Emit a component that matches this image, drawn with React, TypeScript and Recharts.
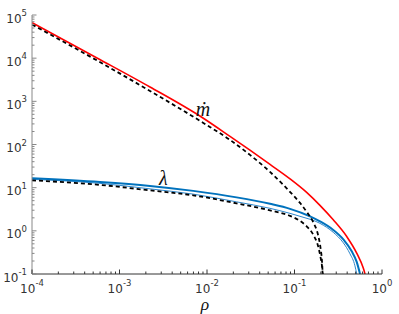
import { Line, LineChart, ReferenceDot, XAxis, YAxis } from "recharts";

// mass flux (red) and its reference (black dashed)
const rhoMdot = [1e-4, 5.53e-4, 2.23e-3, 9.08e-3, 0.01832, 0.03097, 0.0525, 0.0889, 0.1377, 0.1954, 0.2773, 0.3954, 0.514, 0.611, 0.64];
const mdot = [66400, 10120, 2150, 406, 154, 73.8, 34.6, 16.0, 7.78, 3.89, 1.8, 0.738, 0.305, 0.137, 0.1];

const rhoMdotRef = [1e-4, 5.53e-4, 2.23e-3, 9.08e-3, 0.01832, 0.03097, 0.0525, 0.0745, 0.0968, 0.1156, 0.1377, 0.1641, 0.1858, 0.199, 0.206, 0.21];
const mdotRef = [60300, 8850, 1740, 316, 128, 57.4, 23.2, 11.6, 6.64, 4.45, 2.75, 1.57, 0.807, 0.383, 0.202, 0.1];

// lambda (thick blue), thin variant, and reference (black dashed)
const rhoLambda = [1e-4, 5.98e-4, 2.23e-3, 6.97e-3, 0.0218, 0.0525, 0.0889, 0.1503, 0.1954, 0.2773, 0.3614, 0.451, 0.514, 0.561];
const lambda = [16.6, 13.6, 11.0, 8.43, 5.96, 4.22, 3.23, 2.17, 1.66, 1.05, 0.635, 0.335, 0.191, 0.1];

const rhoLambdaThin = [1e-4, 5.98e-4, 2.23e-3, 6.97e-3, 0.0218, 0.0525, 0.0889, 0.1156, 0.1954, 0.2773, 0.3614, 0.4305, 0.4906, 0.514];
const lambdaThin = [15.6, 12.6, 9.38, 7.08, 4.69, 3.32, 2.54, 2.17, 1.49, 0.923, 0.527, 0.294, 0.155, 0.1];

const rhoLambdaRef = [1e-4, 5.98e-4, 2.23e-3, 6.97e-3, 0.0218, 0.0525, 0.0889, 0.1156, 0.1377, 0.1641, 0.187, 0.199, 0.206, 0.21];
const lambdaRef = [14.8, 11.6, 8.66, 6.64, 4.33, 2.98, 2.22, 1.7, 1.27, 0.807, 0.427, 0.237, 0.155, 0.1];

const xMajor = [1e-4, 1e-3, 1e-2, 1e-1, 1];
const yMajor = [1e-1, 1, 10, 100, 1e3, 1e4, 1e5];
const minorSteps = [2, 3, 4, 5, 6, 7, 8, 9];

const withMinor = (majors: number[]) => {
  const out: number[] = [];
  majors.forEach((m, i) => {
    out.push(m);
    if (i < majors.length - 1) minorSteps.forEach((s) => out.push(m * s));
  });
  return out;
};
const xTicks = withMinor(xMajor);
const yTicks = withMinor(yMajor);

const pts = (xs: number[], ys: number[]) => xs.map((rho, i) => ({ rho, v: ys[i] }));

const textColor = "#333";
const tickFont = "DejaVu Sans";
const mathFont = "Liberation Serif";

function makeTick(side: "bottom" | "top" | "left" | "right", color: string) {
  return (props: any) => {
    const { x, y, payload } = props;
    const e = Math.log10(payload.value);
    const exp = Math.round(e);
    const major = Math.abs(e - exp) < 1e-6;
    const len = major ? 4.5 : 2.5;
    let line = null;
    let label = null;
    if (side === "bottom") {
      line = <line x1={x} x2={x} y1={y} y2={y - len} stroke={color} />;
      if (major)
        label = (
          <text x={x} y={y + 18.5} textAnchor="middle" fontSize={12} fontFamily={tickFont} fill={textColor}>
            10<tspan dy={-6.5} fontSize={8.5}>{exp}</tspan>
          </text>
        );
    } else if (side === "top") {
      line = <line x1={x} x2={x} y1={y} y2={y + len} stroke={color} />;
    } else if (side === "left") {
      line = <line x1={x} x2={x + len} y1={y} y2={y} stroke={color} />;
      if (major)
        label = (
          <text x={x - 5} y={y + 7.5} textAnchor="end" fontSize={12} fontFamily={tickFont} fill={textColor}>
            10<tspan dy={-6.5} fontSize={8.5}>{exp}</tspan>
          </text>
        );
    } else {
      line = <line x1={x} x2={x - len} y1={y} y2={y} stroke={color} />;
    }
    return (
      <g>
        {line}
        {label}
      </g>
    );
  };
}

const mathLabel = (text: string) => (props: any) => {
  const vb = props.viewBox;
  return (
    <text
      x={vb.x + vb.width / 2}
      y={vb.y + vb.height / 2}
      textAnchor="middle"
      dominantBaseline="central"
      fontSize={20}
      fontStyle="italic"
      fontFamily={mathFont}
      fill="#111"
    >
      {text}
    </text>
  );
};

export default function App() {
  return (
    <div style={{ position: "absolute", left: 0, top: 0, width: 399, height: 314, background: "#fff" }}>
      <LineChart width={399} height={314} margin={{ top: 15, right: 17, left: 0, bottom: 0 }}>
        <XAxis
          dataKey="rho"
          type="number"
          scale="log"
          domain={[1e-4, 1]}
          ticks={xTicks}
          interval={0}
          allowDataOverflow
          height={40}
          tickSize={0}
          tickMargin={0}
          tickLine={false}
          axisLine={{ stroke: "#333" }}
          tick={makeTick("bottom", "#333")}
          label={(p: any) => (
            <text
              x={p.viewBox.x + p.viewBox.width / 2 - 2}
              y={p.viewBox.y + 36}
              textAnchor="middle"
              fontSize={17.5}
              fontStyle="italic"
              fontFamily={mathFont}
              fill="#111"
            >
              ρ
            </text>
          )}
        />
        <XAxis
          xAxisId="top"
          orientation="top"
          type="number"
          scale="log"
          domain={[1e-4, 1]}
          ticks={xTicks}
          interval={0}
          allowDataOverflow
          height={0}
          tickSize={0}
          tickMargin={0}
          tickLine={false}
          axisLine={{ stroke: "#999" }}
          tick={makeTick("top", "#999")}
        />
        <YAxis
          type="number"
          scale="log"
          domain={[0.1, 1e5]}
          ticks={yTicks}
          interval={0}
          allowDataOverflow
          width={32}
          tickSize={0}
          tickMargin={0}
          tickLine={false}
          axisLine={{ stroke: "#888" }}
          tick={makeTick("left", "#888")}
        />
        <YAxis
          yAxisId="right"
          orientation="right"
          type="number"
          scale="log"
          domain={[0.1, 1e5]}
          ticks={yTicks}
          interval={0}
          allowDataOverflow
          width={0}
          tickSize={0}
          tickMargin={0}
          tickLine={false}
          axisLine={{ stroke: "#555" }}
          tick={makeTick("right", "#555")}
        />
        <Line data={pts(rhoLambdaThin, lambdaThin)} dataKey="v" type="monotone" stroke="#2b86cc" strokeWidth={1} dot={false} activeDot={false} isAnimationActive={false} />
        <Line data={pts(rhoLambda, lambda)} dataKey="v" type="monotone" stroke="#0072bd" strokeWidth={2} dot={false} activeDot={false} isAnimationActive={false} />
        <Line data={pts(rhoMdot, mdot)} dataKey="v" type="monotone" stroke="#ff0000" strokeWidth={1.6} dot={false} activeDot={false} isAnimationActive={false} />
        <Line data={pts(rhoLambdaRef, lambdaRef)} dataKey="v" type="monotone" stroke="#000" strokeWidth={1.8} strokeDasharray="4 3" dot={false} activeDot={false} isAnimationActive={false} />
        <Line data={pts(rhoMdotRef, mdotRef)} dataKey="v" type="monotone" stroke="#000" strokeWidth={1.8} strokeDasharray="4 3" dot={false} activeDot={false} isAnimationActive={false} />
        <ReferenceDot x={0.009} y={667} r={1} fill="none" stroke="none" label={mathLabel("ṁ")} />
        <ReferenceDot x={0.00316} y={16.6} r={1} fill="none" stroke="none" label={mathLabel("λ")} />
      </LineChart>
    </div>
  );
}
